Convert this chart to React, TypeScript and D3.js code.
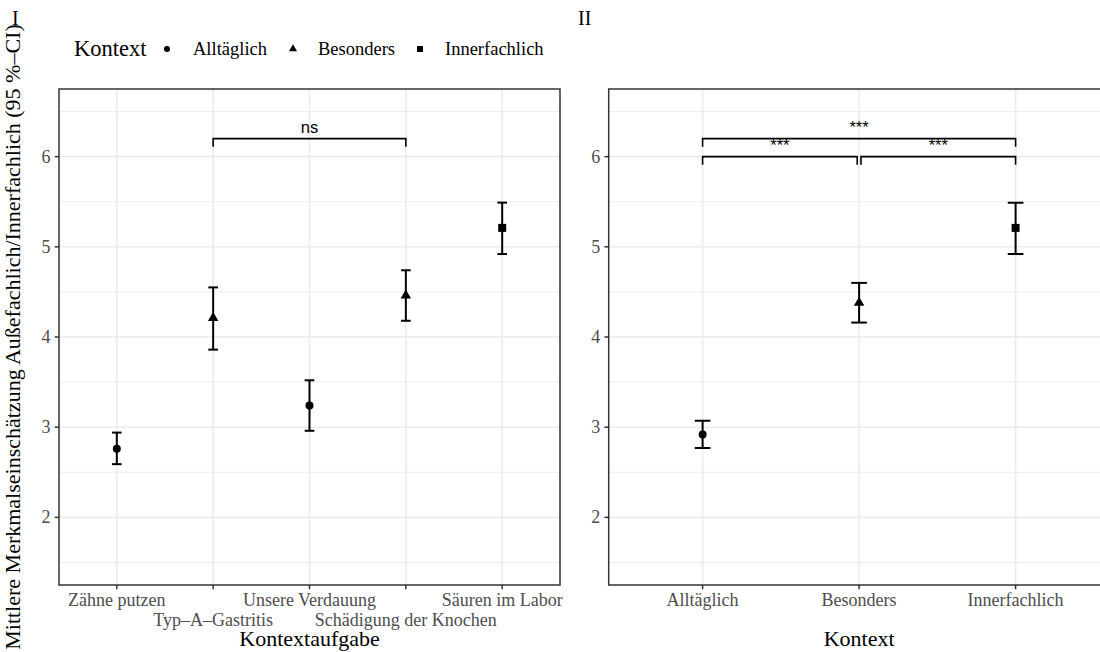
import React from "react";
import * as d3 from "d3";

// Panel I: ratings per context task
const aufgaben = [
  "Zähne putzen",
  "Typ–A–Gastritis",
  "Unsere Verdauung",
  "Schädigung der Knochen",
  "Säuren im Labor",
];
const aufgabenKontext = ["Alltäglich", "Besonders", "Alltäglich", "Besonders", "Innerfachlich"];
const aufgabenMean = [2.76, 4.21, 3.24, 4.46, 5.21];
const aufgabenLower = [2.59, 3.86, 2.96, 4.18, 4.92];
const aufgabenUpper = [2.94, 4.55, 3.52, 4.74, 5.49];

// Panel II: ratings pooled per context
const kontexte = ["Alltäglich", "Besonders", "Innerfachlich"];
const kontextMean = [2.92, 4.38, 5.21];
const kontextLower = [2.77, 4.16, 4.92];
const kontextUpper = [3.07, 4.6, 5.49];

// Significance brackets
const bracketsI = [{ from: "Typ–A–Gastritis", to: "Schädigung der Knochen", y: 6.2, label: "ns" }];
const bracketsII = [
  { from: "Alltäglich", to: "Besonders", y: 6.0, label: "***" },
  { from: "Besonders", to: "Innerfachlich", y: 6.0, label: "***" },
  { from: "Alltäglich", to: "Innerfachlich", y: 6.2, label: "***" },
];

const yMajor = [2, 3, 4, 5, 6];
const yMinor = [1.5, 2.5, 3.5, 4.5, 5.5, 6.5];
const yDomain: [number, number] = [1.25, 6.75];

const SERIF = "'Liberation Serif', 'Times New Roman', serif";
const SANS = "'Liberation Sans', Arial, sans-serif";
const GRID = "#EBEBEB";
const AXIS = "#333333";
const TICKTXT = "#4D4D4D";

const W = 1100;
const H = 652;
const TOP = 89;
const BOTTOM = 585;

function Marker({ kind, x, y, s }: { kind: string; x: number; y: number; s: number }) {
  if (kind === "Alltäglich") return <circle cx={x} cy={y} r={s} fill="#000" />;
  if (kind === "Besonders") {
    const r = 1.555 * s;
    const xc = 1.347 * s;
    const yc = 0.778 * s;
    return (
      <path
        d={`M${x},${y - r}L${x + xc},${y + yc}L${x - xc},${y + yc}Z`}
        fill="#000"
      />
    );
  }
  return <rect x={x - s} y={y - s} width={2 * s} height={2 * s} fill="#000" />;
}

type PanelProps = {
  cats: string[];
  kinds: string[];
  mean: number[];
  lower: number[];
  upper: number[];
  brackets: { from: string; to: string; y: number; label: string }[];
  left: number;
  right: number;
  xTitle: string;
  dodge: boolean;
  pairGap: boolean;
};

function Panel(p: PanelProps) {
  const x = d3.scalePoint<string>().domain(p.cats).range([p.left, p.right]).padding(0.6);
  const y = d3.scaleLinear().domain(yDomain).range([BOTTOM, TOP]);
  const step = x.step();
  const cap = 0.05 * step;
  const tip = 0.09;
  const clipId = "clip-" + p.left.toFixed(0);
  return (
    <g>
      <defs>
        <clipPath id={clipId}>
          <rect x={p.left} y={TOP} width={p.right - p.left} height={BOTTOM - TOP} />
        </clipPath>
      </defs>
      <g clipPath={`url(#${clipId})`}>
        {yMinor.map((v) => (
          <line key={"mi" + v} x1={p.left} x2={p.right} y1={y(v)} y2={y(v)} stroke={GRID} strokeWidth={0.9} />
        ))}
        {yMajor.map((v) => (
          <line key={"ma" + v} x1={p.left} x2={p.right} y1={y(v)} y2={y(v)} stroke={GRID} strokeWidth={1.6} />
        ))}
        {p.cats.map((c) => (
          <line key={"gx" + c} x1={x(c)} x2={x(c)} y1={TOP} y2={BOTTOM} stroke={GRID} strokeWidth={1.6} />
        ))}
        {p.cats.map((c, i) => {
          const cx = x(c) as number;
          return (
            <g key={"pt" + c}>
              <line x1={cx} x2={cx} y1={y(p.lower[i])} y2={y(p.upper[i])} stroke="#000" strokeWidth={2} />
              <line x1={cx - cap} x2={cx + cap} y1={y(p.lower[i])} y2={y(p.lower[i])} stroke="#000" strokeWidth={2} />
              <line x1={cx - cap} x2={cx + cap} y1={y(p.upper[i])} y2={y(p.upper[i])} stroke="#000" strokeWidth={2} />
              <Marker kind={p.kinds[i]} x={cx} y={y(p.mean[i])} s={p.kinds[i] === "Besonders" ? 3.9 : 4} />
            </g>
          );
        })}
        {p.brackets.map((b, i) => {
          const shrink = p.pairGap && b.y < 6.1 ? 0.012 * step : 0;
          const x1 = (x(b.from) as number) + (b.from === "Besonders" ? shrink : 0);
          const x2 = (x(b.to) as number) - (b.to === "Besonders" ? shrink : 0);
          const yl = y(b.y);
          const yt = y(b.y - tip);
          return (
            <g key={"br" + i}>
              <path
                d={`M${x1},${yt}L${x1},${yl}L${x2},${yl}L${x2},${yt}`}
                fill="none"
                stroke="#000"
                strokeWidth={1.6}
              />
              <text
                x={(x1 + x2) / 2}
                y={yl - 5.3}
                textAnchor="middle"
                fontFamily={SANS}
                fontSize={16.5}
                fill="#000"
              >
                {b.label}
              </text>
            </g>
          );
        })}
      </g>
      <rect
        x={p.left}
        y={TOP}
        width={p.right - p.left}
        height={BOTTOM - TOP}
        fill="none"
        stroke={AXIS}
        strokeWidth={1.5}
      />
      {yMajor.map((v) => (
        <g key={"yt" + v}>
          <line x1={p.left - 4.3} x2={p.left} y1={y(v)} y2={y(v)} stroke={AXIS} strokeWidth={1.5} />
          <text
            x={p.left - 8.5}
            y={y(v) + 6}
            textAnchor="end"
            fontFamily={SERIF}
            fontSize={18}
            fill={TICKTXT}
          >
            {v}
          </text>
        </g>
      ))}
      {p.cats.map((c, i) => {
        const cx = x(c) as number;
        const row = p.dodge ? i % 2 : 0;
        return (
          <g key={"xt" + c}>
            <line x1={cx} x2={cx} y1={BOTTOM} y2={BOTTOM + 4.3} stroke={AXIS} strokeWidth={1.5} />
            <text
              x={cx}
              y={606 + row * 20}
              textAnchor="middle"
              fontFamily={SERIF}
              fontSize={18}
              fill={TICKTXT}
            >
              {c}
            </text>
          </g>
        );
      })}
      <text
        x={(p.left + p.right) / 2}
        y={646}
        textAnchor="middle"
        fontFamily={SERIF}
        fontSize={22}
        fill="#000"
      >
        {p.xTitle}
      </text>
    </g>
  );
}

const legendItems = [
  { kind: "Alltäglich", kx: 167, tx: 193 },
  { kind: "Besonders", kx: 293, tx: 318 },
  { kind: "Innerfachlich", kx: 420, tx: 445 },
];

export default function App() {
  return (
    <svg
      width={W}
      height={H}
      viewBox={`0 0 ${W} ${H}`}
      style={{ position: "absolute", left: 0, top: 0, background: "#fff" }}
    >
      <rect x={0} y={0} width={W} height={H} fill="#fff" />
      <Panel
        cats={aufgaben}
        kinds={aufgabenKontext}
        mean={aufgabenMean}
        lower={aufgabenLower}
        upper={aufgabenUpper}
        brackets={bracketsI}
        left={59}
        right={560}
        xTitle="Kontextaufgabe"
        dodge={true}
        pairGap={false}
      />
      <Panel
        cats={kontexte}
        kinds={kontexte}
        mean={kontextMean}
        lower={kontextLower}
        upper={kontextUpper}
        brackets={bracketsII}
        left={608.7}
        right={1109.5}
        xTitle="Kontext"
        dodge={false}
        pairGap={true}
      />
      <text
        transform={`translate(20,${(TOP + BOTTOM) / 2}) rotate(-90)`}
        textAnchor="middle"
        fontFamily={SERIF}
        fontSize={22}
        fill="#000"
      >
        Mittlere Merkmalseinschätzung Außefachlich/Innerfachlich (95 %–CI)
      </text>
      <text x={12} y={25} fontFamily={SERIF} fontSize={20} fill="#000">
        I
      </text>
      <text x={578} y={25} fontFamily={SERIF} fontSize={20} fill="#000">
        II
      </text>
      <text x={74} y={56} fontFamily={SERIF} fontSize={22.5} fill="#000">
        Kontext
      </text>
      {legendItems.map((it) => (
        <g key={it.kind}>
          <Marker kind={it.kind} x={it.kx} y={49} s={3} />
          <text x={it.tx} y={55} fontFamily={SERIF} fontSize={18.5} fill="#000">
            {it.kind}
          </text>
        </g>
      ))}
    </svg>
  );
}
